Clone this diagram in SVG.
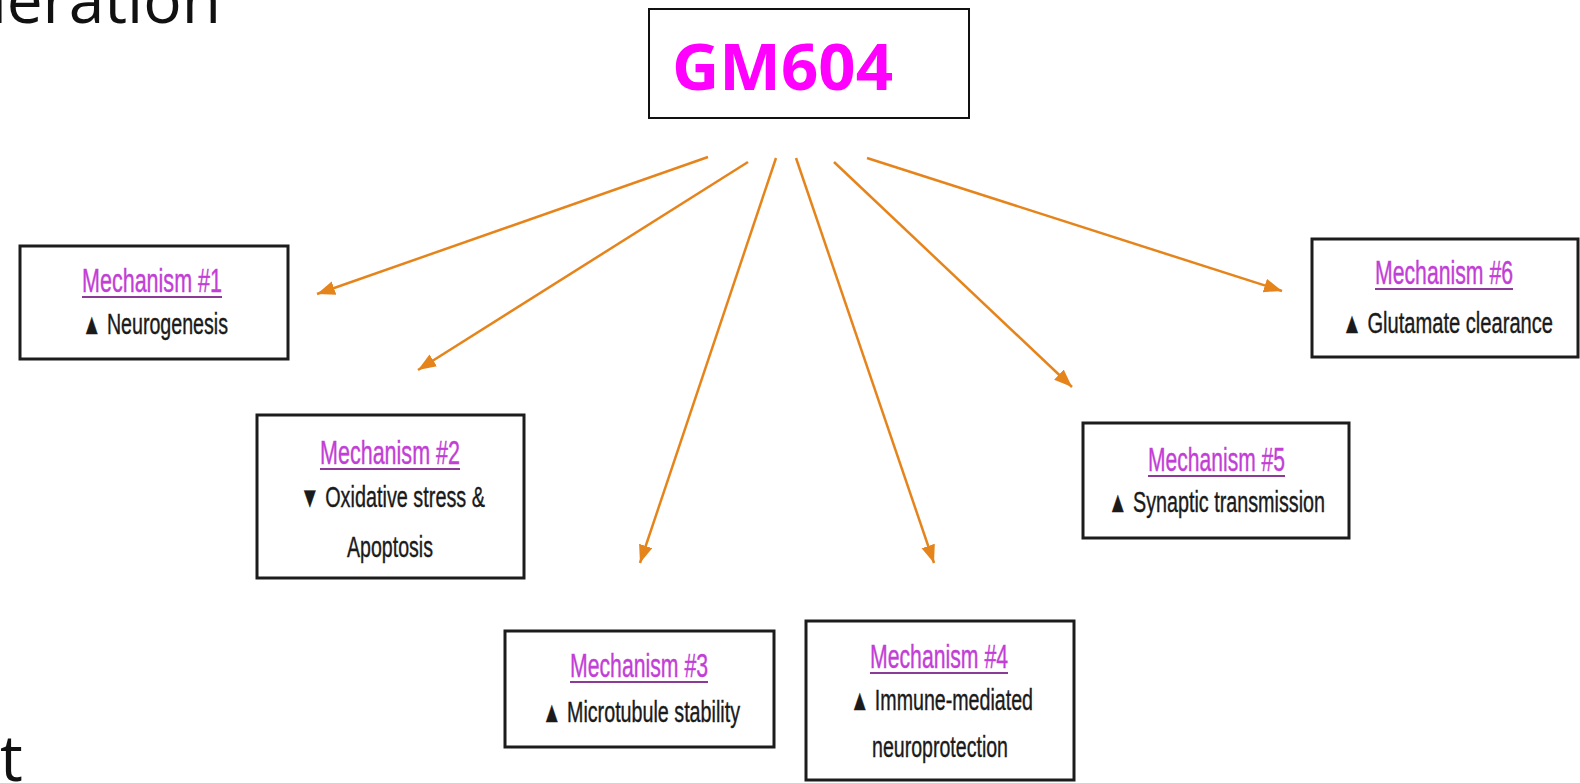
<svg xmlns="http://www.w3.org/2000/svg" width="1580" height="783" viewBox="0 0 1580 783">
<style>
.bg{fill:#ffffff}
.slide{font-family:"Open Sans","Liberation Sans",sans-serif;font-size:64px;fill:#111111}
.main{fill:#ffffff;stroke:#111111;stroke-width:2}
.mainlbl{font-family:"Open Sans","Liberation Sans",sans-serif;font-weight:700;font-size:64px;fill:#ff00ff}
.box{fill:#ffffff;stroke:#1c1c1c;stroke-width:3}
.ttl{font-family:"Liberation Sans","DejaVu Sans",sans-serif;font-size:34px;fill:#c23ed6;stroke:#c23ed6;stroke-width:0.4;text-anchor:middle}
.ul{stroke:#8b3a96;stroke-width:1.8}
.txt{font-family:"Liberation Sans","DejaVu Sans",sans-serif;font-size:29px;fill:#1a1a1a;stroke:#1a1a1a;stroke-width:0.4;text-anchor:middle}
.arr{stroke:#e6841c;stroke-width:2.5;fill:none;marker-end:url(#ah)}
</style>
<defs>
<marker id="ah" markerUnits="userSpaceOnUse" markerWidth="20" markerHeight="16" refX="18" refY="7" orient="auto">
<path d="M0,0 L18,7 L0,14 Z" fill="#e6841c"/>
</marker>
</defs>
<rect class="bg" x="0" y="0" width="1580" height="783"/>
<text class="slide" x="221" y="23" text-anchor="end">neration</text>
<text class="slide" x="0" y="781">t</text>

<g id="gm604">
<rect class="main" x="649" y="9" width="320" height="109"/>
<text class="mainlbl" x="672" y="90" textLength="221" lengthAdjust="spacingAndGlyphs">GM604</text>
</g>

<g id="connectors">
<line class="arr" x1="708" y1="157" x2="317" y2="294"/>
<line class="arr" x1="748" y1="162" x2="418" y2="370"/>
<line class="arr" x1="776" y1="158" x2="640" y2="563"/>
<line class="arr" x1="796" y1="158" x2="934" y2="563"/>
<line class="arr" x1="834" y1="162" x2="1072" y2="387"/>
<line class="arr" x1="867" y1="158" x2="1282" y2="291"/>
</g>

<g id="mech1">
<rect class="box" x="20" y="246" width="268" height="113"/>
<text class="ttl" x="152" y="292" textLength="140" lengthAdjust="spacingAndGlyphs">Mechanism #1</text>
<line class="ul" x1="82" y1="297" x2="222" y2="297"/>
<text class="txt" x="155" y="334" textLength="146" lengthAdjust="spacingAndGlyphs">▲ Neurogenesis</text>
</g>

<g id="mech2">
<rect class="box" x="257" y="415" width="267" height="163"/>
<text class="ttl" x="390" y="464" textLength="140" lengthAdjust="spacingAndGlyphs">Mechanism #2</text>
<line class="ul" x1="320" y1="469" x2="460" y2="469"/>
<text class="txt" x="392.5" y="507" textLength="185" lengthAdjust="spacingAndGlyphs">▼ Oxidative stress &amp;</text>
<text class="txt" x="390" y="557" textLength="86" lengthAdjust="spacingAndGlyphs">Apoptosis</text>
</g>

<g id="mech3">
<rect class="box" x="505" y="631" width="269" height="116"/>
<text class="ttl" x="639" y="677" textLength="138" lengthAdjust="spacingAndGlyphs">Mechanism #3</text>
<line class="ul" x1="570" y1="682" x2="708" y2="682"/>
<text class="txt" x="641" y="722" textLength="198" lengthAdjust="spacingAndGlyphs">▲ Microtubule stability</text>
</g>

<g id="mech4">
<rect class="box" x="806" y="621" width="268" height="159"/>
<text class="ttl" x="939" y="668" textLength="138" lengthAdjust="spacingAndGlyphs">Mechanism #4</text>
<line class="ul" x1="870" y1="673" x2="1008" y2="673"/>
<text class="txt" x="941.5" y="710" textLength="183" lengthAdjust="spacingAndGlyphs">▲ Immune-mediated</text>
<text class="txt" x="940" y="757" textLength="136" lengthAdjust="spacingAndGlyphs">neuroprotection</text>
</g>

<g id="mech5">
<rect class="box" x="1083" y="423" width="266" height="115"/>
<text class="ttl" x="1216.5" y="471" textLength="137" lengthAdjust="spacingAndGlyphs">Mechanism #5</text>
<line class="ul" x1="1148" y1="476" x2="1285" y2="476"/>
<text class="txt" x="1216.5" y="512" textLength="217" lengthAdjust="spacingAndGlyphs">▲ Synaptic transmission</text>
</g>

<g id="mech6">
<rect class="box" x="1312" y="239" width="266" height="118"/>
<text class="ttl" x="1444" y="284" textLength="138" lengthAdjust="spacingAndGlyphs">Mechanism #6</text>
<line class="ul" x1="1375" y1="289" x2="1513" y2="289"/>
<text class="txt" x="1447.5" y="333" textLength="211" lengthAdjust="spacingAndGlyphs">▲ Glutamate clearance</text>
</g>
</svg>
